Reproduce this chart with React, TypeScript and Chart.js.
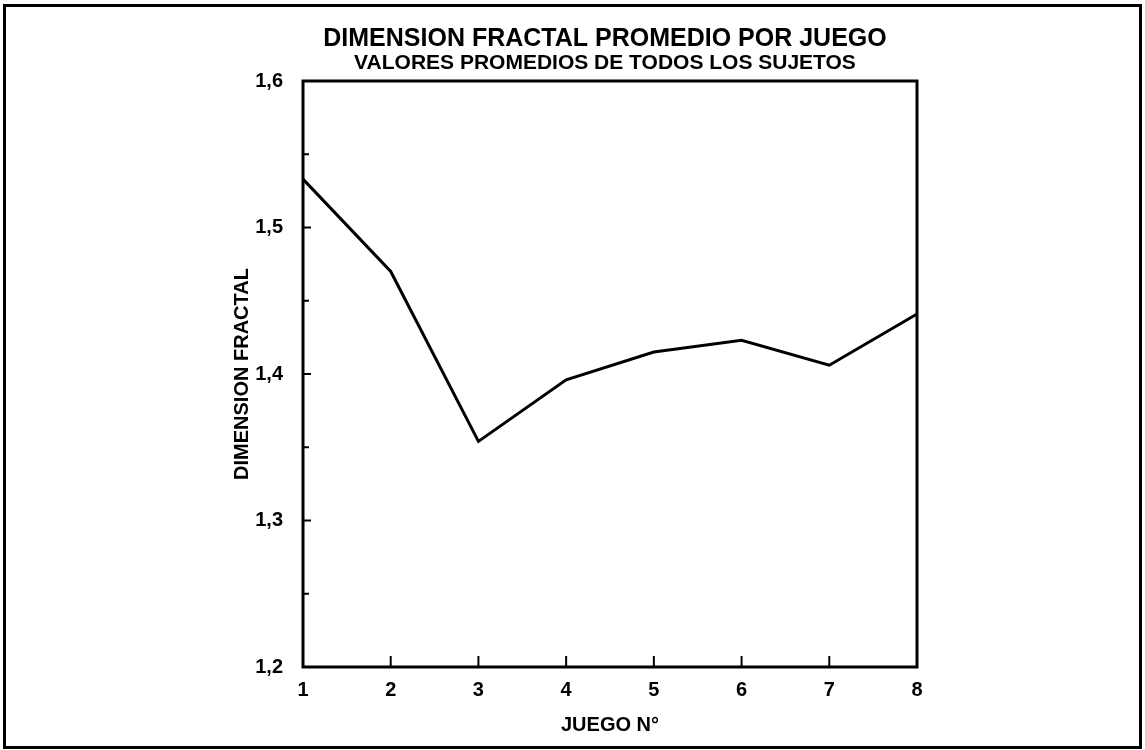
import React, { useEffect, useRef } from "react";
import { Chart, registerables } from "chart.js";

Chart.register(...registerables);

const games = ["1", "2", "3", "4", "5", "6", "7", "8"];
const fractalDimension = [1.533, 1.47, 1.354, 1.396, 1.415, 1.423, 1.406, 1.441];
const yTickValues = [1.2, 1.3, 1.4, 1.5, 1.6];
const yTickLabels = ["1,2", "1,3", "1,4", "1,5", "1,6"];
const yMinorTicks = [1.25, 1.35, 1.45, 1.55];

const titleText = "DIMENSION FRACTAL PROMEDIO POR JUEGO";
const subtitleText = "VALORES PROMEDIOS DE TODOS LOS SUJETOS";
const yAxisTitle = "DIMENSION FRACTAL";
const xAxisTitle = "JUEGO N°";

const FONT = "'Liberation Sans', Arial, Helvetica, sans-serif";

const framePlugin = {
  id: "framePlugin",
  afterDraw(chart: any) {
    const { ctx, chartArea } = chart;
    const xs = chart.scales.x;
    const ys = chart.scales.y;
    ctx.save();
    ctx.strokeStyle = "#000";
    // outer page border
    ctx.lineWidth = 3;
    ctx.strokeRect(4.5, 5.5, chart.width - 9, chart.height - 8);
    // plot frame
    ctx.lineWidth = 3;
    ctx.strokeRect(chartArea.left, chartArea.top, chartArea.right - chartArea.left, chartArea.bottom - chartArea.top);
    // y ticks (inward)
    ctx.lineWidth = 2;
    ctx.beginPath();
    yTickValues.forEach((v) => {
      const y = ys.getPixelForValue(v);
      ctx.moveTo(chartArea.left, y);
      ctx.lineTo(chartArea.left + 8, y);
    });
    yMinorTicks.forEach((v) => {
      const y = ys.getPixelForValue(v);
      ctx.moveTo(chartArea.left, y);
      ctx.lineTo(chartArea.left + 6, y);
    });
    // x ticks (inward)
    games.forEach((g, i) => {
      if (i === 0 || i === games.length - 1) return;
      const x = xs.getPixelForValue(i);
      ctx.moveTo(x, chartArea.bottom);
      ctx.lineTo(x, chartArea.bottom - 11);
    });
    ctx.stroke();
    ctx.restore();
  },
};

export default function App() {
  const canvasRef = useRef<HTMLCanvasElement | null>(null);

  useEffect(() => {
    const canvas = canvasRef.current;
    if (!canvas) return;
    const chart = new Chart(canvas, {
      type: "line",
      data: {
        labels: games,
        datasets: [
          {
            data: fractalDimension,
            borderColor: "#000",
            borderWidth: 3,
            pointRadius: 0,
            tension: 0,
            fill: false,
            yAxisID: "y",
            xAxisID: "x",
          },
        ],
      },
      options: {
        responsive: false,
        animation: false,
        devicePixelRatio: 1,
        layout: { padding: { left: 225, right: 160, top: 0, bottom: 0 } },
        plugins: {
          legend: { display: false },
          tooltip: { enabled: false },
          title: {
            display: true,
            text: titleText,
            color: "#000",
            font: { family: FONT, size: 25, weight: "bold", lineHeight: 1 },
            padding: { top: 27, bottom: 0 },
          },
          subtitle: {
            display: true,
            text: subtitleText,
            color: "#000",
            font: { family: FONT, size: 21, weight: "bold", lineHeight: 1 },
            padding: { top: 1, bottom: 7 },
          },
        },
        scales: {
          x: {
            type: "category",
            offset: false,
            grid: { display: false, drawTicks: false },
            border: { display: false },
            ticks: {
              color: "#000",
              padding: 13,
              maxRotation: 0,
              font: { family: FONT, size: 20, weight: "bold", lineHeight: 1 },
            },
            title: {
              display: true,
              text: xAxisTitle,
              color: "#000",
              font: { family: FONT, size: 20, weight: "bold", lineHeight: 1 },
              padding: { top: 0, bottom: 15 },
            },
            afterFit: (scale: any) => {
              scale.height = 83;
            },
          },
          y: {
            type: "linear",
            position: "left",
            min: 1.2,
            max: 1.6,
            grid: { display: false, drawTicks: false },
            border: { display: false },
            afterBuildTicks: (scale: any) => {
              scale.ticks = yTickValues.map((v) => ({ value: v }));
            },
            ticks: {
              color: "#000",
              padding: 20,
              font: { family: FONT, size: 20, weight: "bold", lineHeight: 1 },
              callback: (value: any) => {
                const idx = yTickValues.findIndex((v) => Math.abs(v - Number(value)) < 1e-6);
                return idx >= 0 ? yTickLabels[idx] : "";
              },
            },
            title: {
              display: true,
              text: yAxisTitle,
              color: "#000",
              font: { family: FONT, size: 20, weight: "bold", lineHeight: 1 },
              padding: { top: 7, bottom: 0 },
            },
            afterFit: (scale: any) => {
              scale.width = 78;
            },
          },
          yRight: {
            type: "linear",
            position: "right",
            display: true,
            grid: { display: false, drawTicks: false },
            border: { display: false },
            ticks: { display: false },
            afterFit: (scale: any) => {
              scale.width = 68;
            },
          },
        },
      },
      plugins: [framePlugin],
    });
    return () => chart.destroy();
  }, []);

  return (
    <div style={{ position: "absolute", left: 0, top: 0, width: 1145, height: 750, background: "#fff" }}>
      <canvas ref={canvasRef} width={1145} height={750} style={{ display: "block" }} />
    </div>
  );
}
